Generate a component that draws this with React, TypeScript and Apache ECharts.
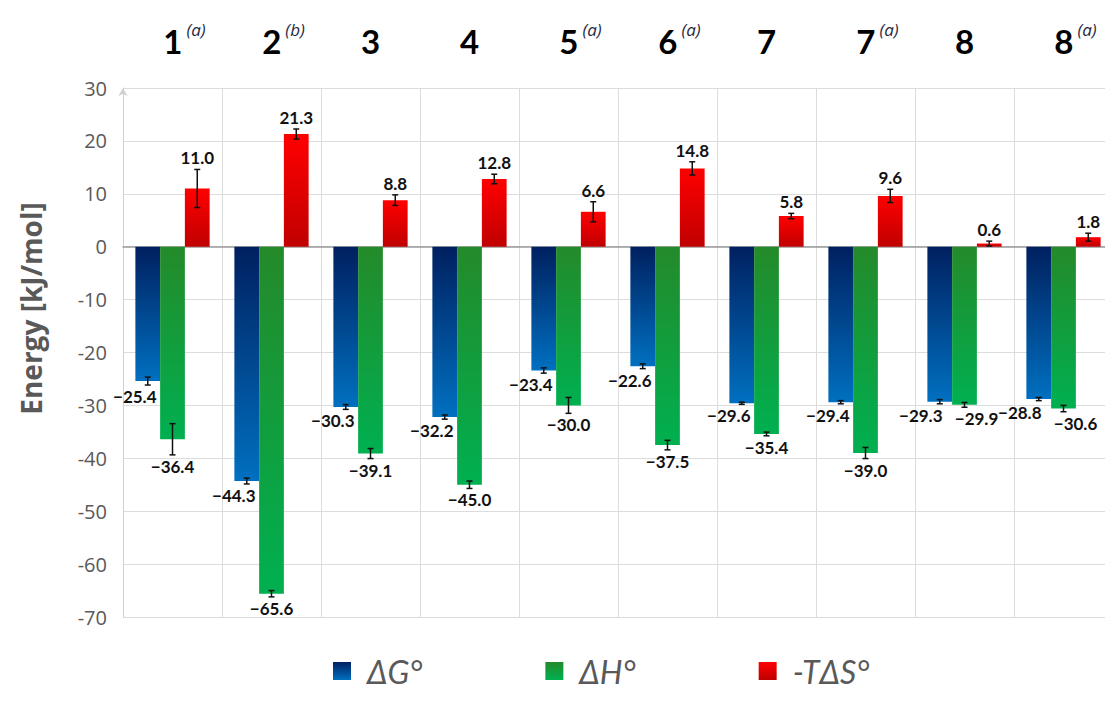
import React, { useEffect, useRef } from "react";
import * as echarts from "echarts";

const compounds = ["1", "2", "3", "4", "5", "6", "7", "7", "8", "8"];
const notes = ["a", "b", "", "", "a", "a", "", "a", "", "a"];
const categories = compounds.map((c, i) => (notes[i] ? `${c} (${notes[i]})` : c));

const seriesNames = ["ΔG°", "ΔH°", "-TΔS°"];
const dG = [-25.4, -44.3, -30.3, -32.2, -23.4, -22.6, -29.6, -29.4, -29.3, -28.8];
const dH = [-36.4, -65.6, -39.1, -45.0, -30.0, -37.5, -35.4, -39.0, -29.9, -30.6];
const mTdS = [11.0, 21.3, 8.8, 12.8, 6.6, 14.8, 5.8, 9.6, 0.6, 1.8];
const dGErr = [0.75, 0.55, 0.45, 0.4, 0.5, 0.45, 0.2, 0.3, 0.4, 0.3];
const dHErr = [2.95, 0.6, 0.95, 0.7, 1.5, 0.9, 0.35, 1.05, 0.45, 0.6];
const mTdSErr = [3.6, 0.95, 1.0, 0.9, 1.9, 1.25, 0.5, 1.25, 0.45, 0.75];
const yTicks = { min: -70, max: 30, interval: 10 };

const FONT = "Lato, 'Open Sans', sans-serif";
const AXFONT = "'Open Sans', Lato, sans-serif";

const grad = (top: string, bottom: string) =>
  new echarts.graphic.LinearGradient(0, 0, 0, 1, [
    { offset: 0, color: top },
    { offset: 1, color: bottom },
  ]);

const fmt = (v: number) => (v < 0 ? "\u2212" + Math.abs(v).toFixed(1) : v.toFixed(1));

export default function App() {
  const ref = useRef<HTMLDivElement>(null);
  useEffect(() => {
    if (!ref.current) return;
    const chart = echarts.init(ref.current, null, { renderer: "svg" });
    const values = [dG, dH, mTdS];
    const errs = [dGErr, dHErr, mTdSErr];
    const colors = [
      grad("#002060", "#0070c0"),
      grad("#248a2a", "#00b050"),
      grad("#ff0000", "#c00000"),
    ];
    const errData: number[][] = [];
    for (let s = 0; s < 3; s++) {
      for (let i = 0; i < categories.length; i++) {
        errData.push([i, values[s][i], errs[s][i], s]);
      }
    }
    const barSeries = values.map((vals, s) => ({
      name: seriesNames[s],
      type: "bar",
      xAxisIndex: 0,
      data: vals,
      barWidth: "25%",
      barGap: "0%",
      itemStyle: { color: colors[s] },
    }));
    chart.setOption({
      animation: false,
      textStyle: { fontFamily: FONT },
      grid: { left: 123, right: 0, top: 88, bottom: 94 },
      legend: {
        data: seriesNames,
        top: 650,
        left: 328,
        icon: "rect",
        itemWidth: 18,
        itemHeight: 18,
        itemGap: 123,
        textStyle: {
          fontFamily: FONT,
          fontSize: 32,
          fontStyle: "italic",
          color: "#595959",
          padding: [0, 0, 0, 11],
        },
      },
      xAxis: [
        {
          type: "category",
          data: categories,
          position: "bottom",
          axisLine: { show: true, onZero: true, lineStyle: { color: "#9a9a9a", width: 1.5 } },
          axisTick: { show: false },
          axisLabel: { show: false },
          splitLine: { show: true, lineStyle: { color: "#dcdcdc", width: 1 } },
        },
        {
          type: "category",
          data: categories,
          position: "top",
          axisLine: { show: false, onZero: false },
          axisTick: { show: false },
          splitLine: { show: false },
          axisLabel: {
            margin: 27,
            interval: 0,
            formatter: (_v: string, i: number) =>
              notes[i]
                ? `{np|${compounds[i]}}{s|(${notes[i]})}`
                : `{n|${compounds[i]}}`,
            rich: {
              n: { fontSize: 33, fontWeight: "bold", color: "#000", fontFamily: FONT, lineHeight: 40 },
              np: {
                fontSize: 33,
                fontWeight: "bold",
                color: "#000",
                fontFamily: FONT,
                lineHeight: 40,
                padding: [0, 0, 0, 24],
              },
              s: {
                fontSize: 17,
                fontStyle: "italic",
                color: "#1f2a44",
                fontFamily: AXFONT,
                lineHeight: 10,
                verticalAlign: "top",
                padding: [0, 0, 0, 4],
              },
            },
          },
        },
      ],
      yAxis: {
        type: "value",
        min: yTicks.min,
        max: yTicks.max,
        interval: yTicks.interval,
        name: "Energy [kJ/mol]",
        nameLocation: "middle",
        nameGap: 78,
        nameTextStyle: {
          fontSize: 28,
          fontWeight: "bold",
          color: "#595959",
          fontFamily: AXFONT,
          padding: [0, 0, 0, 88],
        },
        axisLine: {
          show: true,
          symbol: ["none", "arrow"],
          symbolSize: [7, 8],
          symbolOffset: [0, 0],
          lineStyle: { color: "#d0d0d0", width: 1 },
        },
        axisTick: { show: false },
        axisLabel: { fontSize: 20, color: "#595959", margin: 16, fontFamily: AXFONT },
        splitLine: { show: true, lineStyle: { color: "#dcdcdc", width: 1 } },
      },
      series: [
        ...barSeries,
        {
          type: "custom",
          xAxisIndex: 0,
          z: 10,
          data: errData,
          encode: { x: 0, y: 1 },
          renderItem: (_p: any, api: any) => {
            const ci = api.value(0);
            const v = api.value(1);
            const e = api.value(2);
            const s = api.value(3);
            const band = api.size([1, 0])[0];
            const cx = api.coord([ci, 0])[0] + (s - 1) * band * 0.25;
            const yTop = api.coord([ci, v + e])[1];
            const yBot = api.coord([ci, v - e])[1];
            const cap = 3;
            const stroke = { stroke: "#111", lineWidth: 1.5 };
            // negative labels of ΔG° and ΔH° that sit at the same height are pushed apart
            const crowded = Math.abs(dG[ci] - dH[ci]) < 3;
            let lx = cx;
            if (s === 0) lx = cx - (crowded ? 19 : 13);
            if (s === 1 && crowded) lx = cx + 12;
            const ly = v >= 0 ? yTop - 3 : yBot + 3;
            return {
              type: "group",
              children: [
                { type: "line", shape: { x1: cx, y1: yTop, x2: cx, y2: yBot }, style: stroke },
                { type: "line", shape: { x1: cx - cap, y1: yTop, x2: cx + cap, y2: yTop }, style: stroke },
                { type: "line", shape: { x1: cx - cap, y1: yBot, x2: cx + cap, y2: yBot }, style: stroke },
                {
                  type: "text",
                  x: lx,
                  y: ly,
                  style: {
                    text: fmt(v),
                    fill: "#111",
                    fontSize: 17,
                    fontWeight: "bold",
                    fontFamily: FONT,
                    align: "center",
                    verticalAlign: v >= 0 ? "bottom" : "top",
                  },
                },
              ],
            };
          },
        },
      ],
    });
    return () => chart.dispose();
  }, []);
  return (
    <div
      style={{ position: "fixed", left: 0, top: 0, width: 1105, height: 711, overflow: "hidden", background: "#fff" }}
    >
      <div ref={ref} style={{ width: 1113, height: 711 }} />
    </div>
  );
}
